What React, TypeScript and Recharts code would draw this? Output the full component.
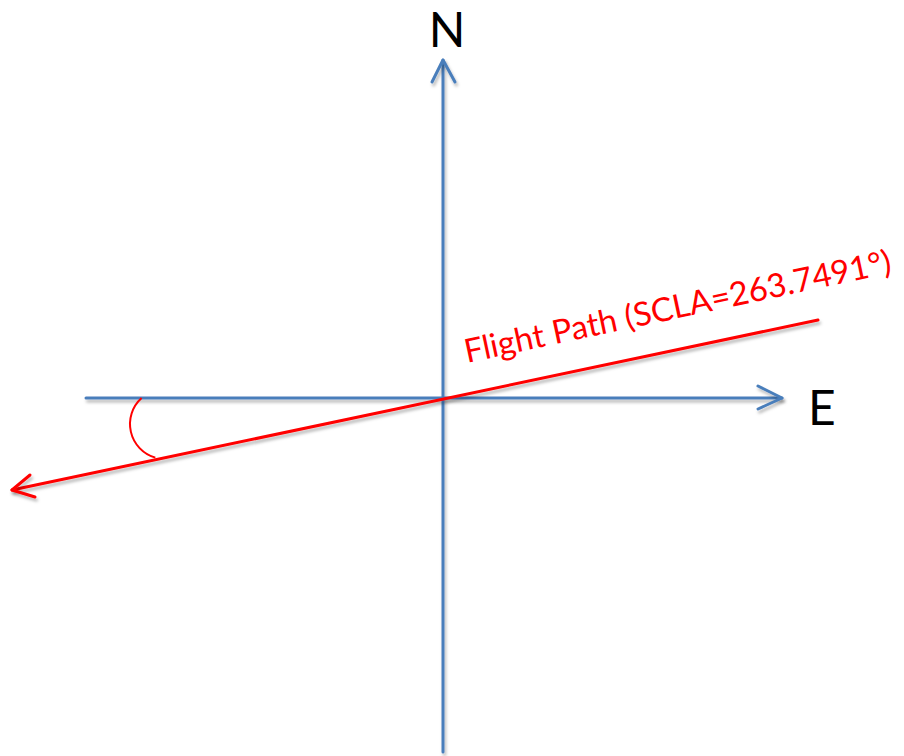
import React from 'react';
import { ScatterChart, Scatter, XAxis, YAxis, ReferenceDot } from 'recharts';

// Coordinates: origin at the axes' crossing, one unit per pixel, y up.
const northAxis = [{ x: 0, y: -354 }, { x: 0, y: 338 }];
const northArrow = [{ x: -11, y: 316 }, { x: 0, y: 338 }, { x: 12, y: 316 }];
const eastAxis = [{ x: -357, y: 0 }, { x: 339, y: 0 }];
const eastArrow = [{ x: 315, y: 12 }, { x: 339, y: 0 }, { x: 315, y: -11 }];
const flightPath = [{ x: -431, y: -92 }, { x: 375, y: 78 }];
const flightArrow = [{ x: -413, y: -77 }, { x: -431, y: -92 }, { x: -408, y: -99 }];
const angleArc = { x: -278, y: -26, r: 35, startDeg: 132, endDeg: 254 };

const northLabel = { text: 'N', x: 4, y: 351 };
const eastLabel = { text: 'E', x: 365, y: -27 };
const flightLabel = { text: 'Flight Path (SCLA=263.7491°)', x: 24, y: 35, angle: -12 };

const BLUE = '#4A7EBB';
const RED = '#FF0000';
const FONT = 'Lato, "Open Sans", sans-serif';

const noDot = () => <g />;

const lineStyle = (color: string) => ({
  stroke: color,
  strokeWidth: 3,
  strokeLinecap: 'round' as const,
  strokeLinejoin: 'round' as const,
  filter: 'url(#shadow)',
});

export default function App() {
  return (
    <div style={{ position: 'absolute', left: 0, top: 0, width: 904, height: 756, background: '#fff' }}>
      <ScatterChart width={904} height={756} margin={{ top: 0, right: 0, bottom: 0, left: 0 }}>
        <XAxis type="number" dataKey="x" domain={[-443, 461]} hide allowDataOverflow />
        <YAxis type="number" dataKey="y" domain={[-358, 398]} hide allowDataOverflow />
        <ReferenceDot
          x={0}
          y={0}
          r={0}
          shape={() => (
            <defs>
              <filter id="shadow" filterUnits="userSpaceOnUse" x={0} y={0} width={904} height={756}>
                <feDropShadow dx={1.5} dy={3} stdDeviation={1.8} floodColor="#000" floodOpacity={0.28} />
              </filter>
            </defs>
          )}
        />
        <Scatter data={eastAxis} line={lineStyle(BLUE)} lineType="joint" shape={noDot} isAnimationActive={false} />
        <Scatter data={eastArrow} line={lineStyle(BLUE)} lineType="joint" shape={noDot} isAnimationActive={false} />
        <Scatter data={northAxis} line={lineStyle(BLUE)} lineType="joint" shape={noDot} isAnimationActive={false} />
        <Scatter data={northArrow} line={lineStyle(BLUE)} lineType="joint" shape={noDot} isAnimationActive={false} />
        <ReferenceDot
          x={angleArc.x}
          y={angleArc.y}
          r={0}
          shape={(p: any) => {
            const a0 = (angleArc.startDeg * Math.PI) / 180;
            const a1 = (angleArc.endDeg * Math.PI) / 180;
            const x0 = p.cx + angleArc.r * Math.cos(a0);
            const y0 = p.cy - angleArc.r * Math.sin(a0);
            const x1 = p.cx + angleArc.r * Math.cos(a1);
            const y1 = p.cy - angleArc.r * Math.sin(a1);
            return (
              <path
                d={`M${x0},${y0} A${angleArc.r},${angleArc.r} 0 0 0 ${x1},${y1}`}
                fill="none"
                stroke={RED}
                strokeWidth={2}
              />
            );
          }}
        />
        <Scatter data={flightPath} line={lineStyle(RED)} lineType="joint" shape={noDot} isAnimationActive={false} />
        <Scatter data={flightArrow} line={lineStyle(RED)} lineType="joint" shape={noDot} isAnimationActive={false} />
        <ReferenceDot
          x={northLabel.x}
          y={northLabel.y}
          r={0}
          shape={(p: any) => (
            <text x={p.cx} y={p.cy} textAnchor="middle" fontFamily={FONT} fontSize={48} fill="#000">
              {northLabel.text}
            </text>
          )}
        />
        <ReferenceDot
          x={eastLabel.x}
          y={eastLabel.y}
          r={0}
          shape={(p: any) => (
            <text x={p.cx} y={p.cy} textAnchor="start" fontFamily={FONT} fontSize={48} fill="#000">
              {eastLabel.text}
            </text>
          )}
        />
        <ReferenceDot
          x={flightLabel.x}
          y={flightLabel.y}
          r={0}
          shape={(p: any) => (
            <text
              x={p.cx}
              y={p.cy}
              textAnchor="start"
              fontFamily={FONT}
              fontSize={33}
              fill={RED}
              transform={`rotate(${flightLabel.angle} ${p.cx} ${p.cy})`}
            >
              {flightLabel.text}
            </text>
          )}
        />
      </ScatterChart>
    </div>
  );
}
